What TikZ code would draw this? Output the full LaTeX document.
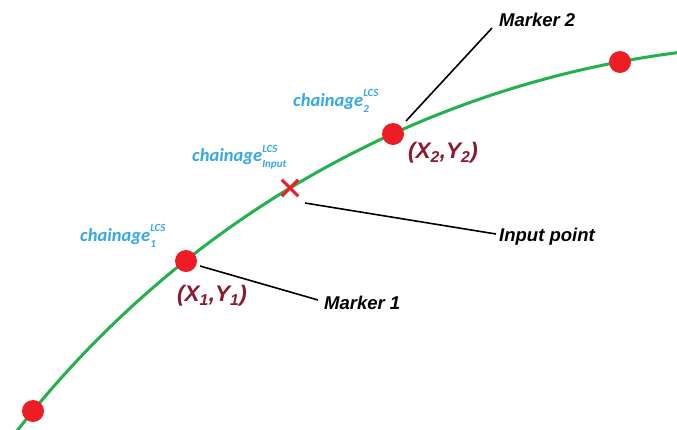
\documentclass[tikz,border=0pt]{standalone}
\usepackage{fontspec}
\setmainfont{Liberation Sans}
\newfontfamily\chfont{Carlito}
\definecolor{curvegreen}{HTML}{22B14C}
\definecolor{dotred}{HTML}{EE1C25}
\definecolor{chblue}{HTML}{35A8E6}
\definecolor{xyred}{HTML}{8A1A2E}
\newcommand\scrpair[2]{\rlap{\raisebox{1.1ex}{\fontsize{11}{11}\selectfont #1}}\rlap{\raisebox{-0.6ex}{\fontsize{11}{11}\selectfont #2}}}
\begin{document}
\begin{tikzpicture}[x=1pt,y=-1pt,
  dot/.style={circle,fill=dotred,minimum size=22pt,inner sep=0pt},
  leader/.style={draw=black,line width=1.6pt},
  lbl/.style={font=\fontsize{18.5}{18.5}\selectfont\bfseries\itshape,inner sep=0pt},
  chl/.style={font=\chfont\fontsize{18.5}{18.5}\selectfont\bfseries\itshape,text=chblue,inner sep=0pt},
  xyl/.style={font=\fontsize{22.5}{22.5}\selectfont\bfseries\itshape,text=xyred,inner sep=0pt}]
\useasboundingbox (0,0) rectangle (677,429);
\coordinate (ctr) at (806.5,1043.8);
\begin{scope}
\clip (0,0) rectangle (677,429);
\draw[curvegreen,line width=3pt] (ctr) circle[radius=999.4pt];
\end{scope}
\coordinate (p0) at (33,411);
\coordinate (p1) at (186,261);
\coordinate (pi) at (290,188);
\coordinate (p2) at (393,134);
\coordinate (p3) at (620,62);
\node[dot] (d0) at (p0) {};
\node[dot] (d1) at (p1) {};
\node[dot] (d2) at (p2) {};
\node[dot] (d3) at (p3) {};
\node[inner sep=0pt,minimum size=16pt] (x) at (pi) {};
\draw[dotred,line width=3pt] (x.north west) -- (x.south east) (x.north east) -- (x.south west);
% labels
\node[lbl,anchor=west] (m1) at (324,303) {Marker 1};
\node[lbl,anchor=west] (m2) at (499,20) {Marker 2};
\node[lbl,anchor=west] (ip) at (499,237) {Input point};
\coordinate (m1e) at (318,300);
\coordinate (m2e) at (492,28);
\coordinate (ipe) at (496,234);
\draw[leader] (200,266) -- (m1e);
\draw[leader] (406,121) -- (m2e);
\draw[leader] (305,203) -- (ipe);
\node[xyl] (xy1) at (212,296) {(X\textsubscript{1},Y\textsubscript{1})};
\node[xyl] (xy2) at (443,153) {(X\textsubscript{2},Y\textsubscript{2})};
\node[chl,anchor=west] (ch1) at (80,236) {chainage\scrpair{LCS}{1}\hspace{2em}};
\node[chl,anchor=west] (chi) at (192,157) {chainage\scrpair{LCS}{Input}\hspace{2em}};
\node[chl,anchor=west] (ch2) at (293,101) {chainage\scrpair{LCS}{2}\hspace{2em}};
\end{tikzpicture}
\end{document}
